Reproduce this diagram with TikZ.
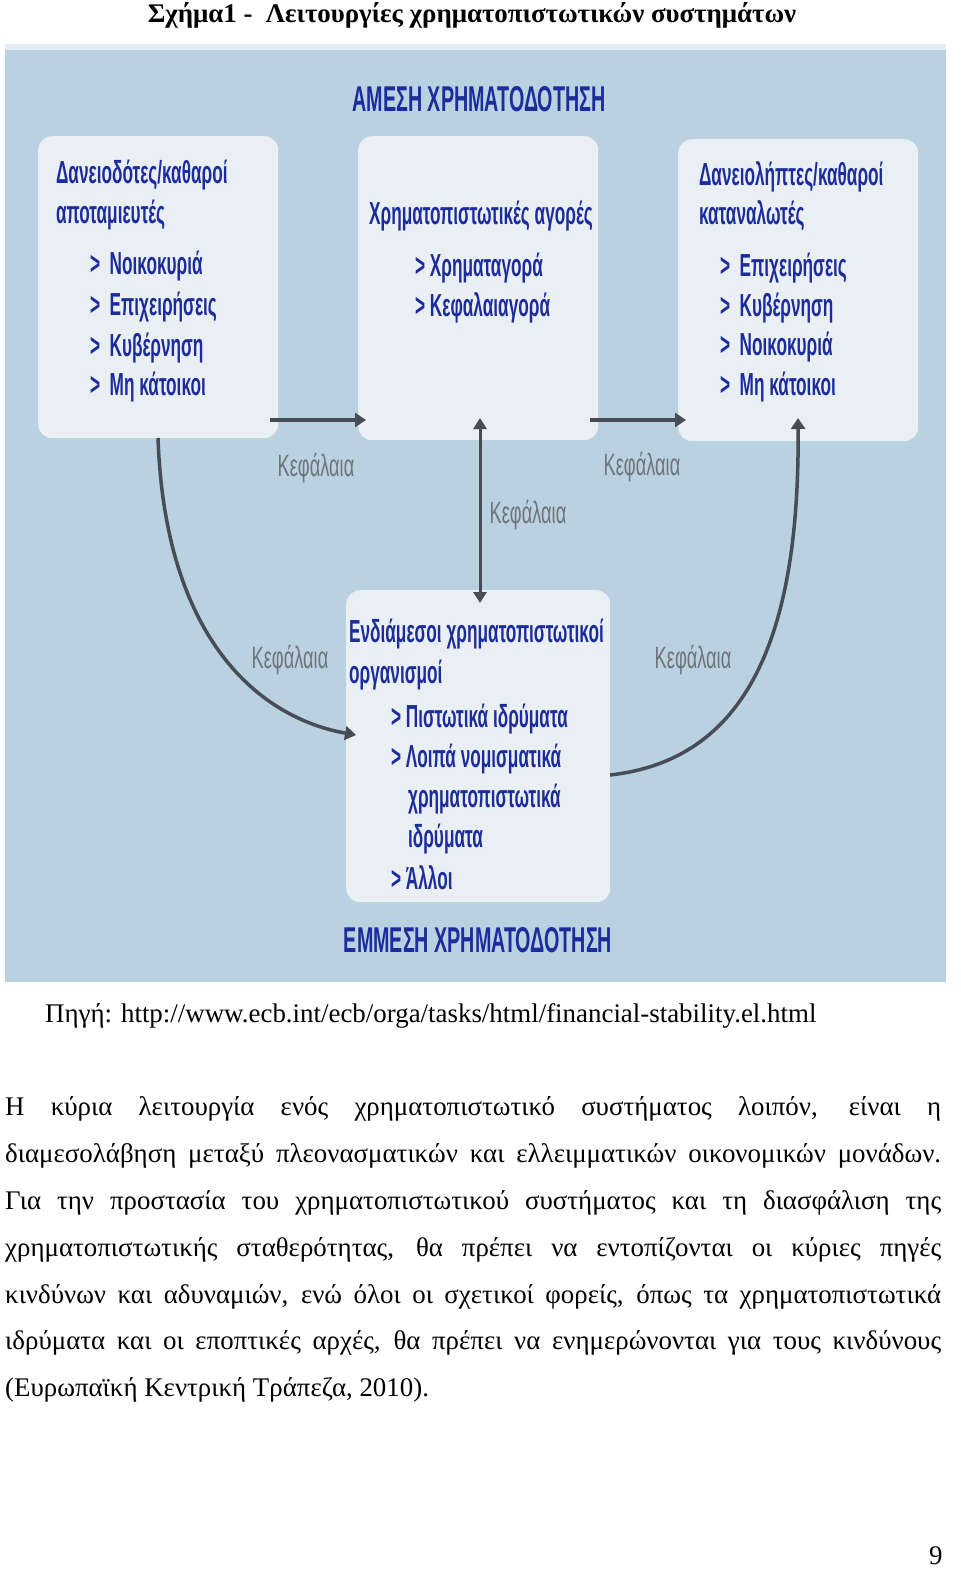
\documentclass[tikz,border=0pt]{standalone}
\usepackage{fontspec}
\setmainfont{Liberation Serif}
\newfontfamily\dsans{Liberation Sans}
\usetikzlibrary{arrows.meta}
\definecolor{panel}{HTML}{B9D1E1}
\definecolor{boxc}{HTML}{EAEFF3}
\definecolor{dblue}{HTML}{1C2C9C}
\definecolor{arr}{HTML}{474C55}
\definecolor{lab}{HTML}{6E7378}
\tikzset{
 hdr/.style={font=\dsans\bfseries\fontsize{36}{36}\selectfont, text=dblue, xscale=0.55, inner sep=0},
 bt/.style={font=\dsans\bfseries\fontsize{32}{32}\selectfont, text=dblue, xscale=0.54, anchor=west, inner sep=0},
 bx/.style={fill=boxc, rounded corners=14bp, draw=none},
 kf/.style={font=\dsans\fontsize{31}{31}\selectfont, text=lab, xscale=0.59, inner sep=0},
 ar/.style={draw=arr, line width=4bp, -{Triangle[length=11bp,width=14bp]}},
 para/.style={anchor=west, inner sep=0, font=\fontsize{27}{27}\selectfont},
}
\newcommand{\gl}[1]{\makebox[936bp][s]{#1}}
\begin{document}
\begin{tikzpicture}[x=1bp,y=-1bp]
\useasboundingbox (0,0) rectangle (960,1578);
\node[font=\bfseries\fontsize{27}{27}\selectfont] (title) at (472,15) {Σχήμα1 -\ \ Λειτουργίες χρηματοπιστωτικών συστημάτων};
\fill[panel] (5,47) rectangle (946,982);
\fill[white!60!panel] (5,44) rectangle (946,50);
\node[hdr] (h1) at (479,99) {ΑΜΕΣΗ ΧΡΗΜΑΤΟΔΟΤΗΣΗ};
\node[hdr] (h2) at (478,940) {ΕΜΜΕΣΗ ΧΡΗΜΑΤΟΔΟΤΗΣΗ};
% boxes
\node[bx, minimum width=240bp, minimum height=302bp, anchor=north west] (L) at (38,136) {};
\node[bx, minimum width=240bp, minimum height=304bp, anchor=north west] (M) at (358,136) {};
\node[bx, minimum width=240bp, minimum height=302bp, anchor=north west] (R) at (678,139) {};
\node[bx, minimum width=264bp, minimum height=312bp, anchor=north west] (B) at (346,590) {};
% left text
\node[bt] (l1) at (56,175) {Δανειοδότες/καθαροί};
\node[bt] (l2) at (56,215) {αποταμιευτές};
\node[bt] (l3) at (90,266) {>\ \ Νοικοκυριά};
\node[bt] (l4) at (90,307) {>\ \ Επιχειρήσεις};
\node[bt] (l5) at (90,348) {>\ \ Κυβέρνηση};
\node[bt] (l6) at (90,387) {>\ \ Μη κάτοικοι};
% middle
\node[bt] (m1) at (369,216) {Χρηματοπιστωτικές αγορές};
\node[bt] (m2) at (415,268) {> Χρηματαγορά};
\node[bt] (m3) at (415,308) {> Κεφαλαιαγορά};
% right
\node[bt] (r1) at (699,177) {Δανειολήπτες/καθαροί};
\node[bt] (r2) at (699,216) {καταναλωτές};
\node[bt] (r3) at (720,268) {>\ \ Επιχειρήσεις};
\node[bt] (r4) at (720,308) {>\ \ Κυβέρνηση};
\node[bt] (r5) at (720,347) {>\ \ Νοικοκυριά};
\node[bt] (r6) at (720,387) {>\ \ Μη κάτοικοι};
% bottom
\node[bt] (b1) at (349,634) {Ενδιάμεσοι χρηματοπιστωτικοί};
\node[bt] (b2) at (349,675) {οργανισμοί};
\node[bt] (b3) at (391,719) {> Πιστωτικά ιδρύματα};
\node[bt] (b4) at (391,759) {> Λοιπά νομισματικά};
\node[bt] (b5) at (408,799) {χρηματοπιστωτικά};
\node[bt] (b6) at (408,839) {ιδρύματα};
\node[bt] (b7) at (391,878) {> Άλλοι};
% arrows
\coordinate (a1) at (270,420); \coordinate (a2) at (366,420);
\coordinate (a3) at (590,420); \coordinate (a4) at (686,420);
\draw[ar] (a1) -- (a2);
\draw[ar] (a3) -- (a4);
\draw[draw=arr, line width=3bp, {Triangle[length=11bp,width=13bp]}-{Triangle[length=11bp,width=13bp]}] (480,418) -- (480,603);
\coordinate (c1) at (158,438); \coordinate (c2) at (356,735);
\draw[draw=arr, line width=3.5bp, -{Triangle[length=11bp,width=14bp]}] (c1) .. controls (165,640) and (260,718) .. (c2);
\coordinate (c3) at (610,775); \coordinate (c4) at (798,418);
\draw[draw=arr, line width=3.5bp, -{Triangle[length=11bp,width=14bp]}] (c3) .. controls (745,760) and (800,640) .. (c4);
% labels
\node[kf] (k1) at (316,468) {Κεφάλαια};
\node[kf] (k2) at (642,467) {Κεφάλαια};
\node[kf] (k3) at (528,515) {Κεφάλαια};
\node[kf] (k4) at (290,660) {Κεφάλαια};
\node[kf] (k5) at (693,660) {Κεφάλαια};
% text below
\node[para] (src) at (45,1016) {Πηγή: http://www.ecb.int/ecb/orga/tasks/html/financial-stability.el.html};
\node[para] (p1) at (5,1109) {\gl{Η κύρια λειτουργία ενός χρηματοπιστωτικό συστήματος λοιπόν, είναι η}};
\node[para] (p2) at (5,1156) {\gl{διαμεσολάβηση μεταξύ πλεονασματικών και ελλειμματικών οικονομικών μονάδων.}};
\node[para] (p3) at (5,1203) {\gl{Για την προστασία του χρηματοπιστωτικού συστήματος και τη διασφάλιση της}};
\node[para] (p4) at (5,1250) {\gl{χρηματοπιστωτικής σταθερότητας, θα πρέπει να εντοπίζονται οι κύριες πηγές}};
\node[para] (p5) at (5,1297) {\gl{κινδύνων και αδυναμιών, ενώ όλοι οι σχετικοί φορείς, όπως τα χρηματοπιστωτικά}};
\node[para] (p6) at (5,1343) {\gl{ιδρύματα και οι εποπτικές αρχές, θα πρέπει να ενημερώνονται για τους κινδύνους}};
\node[para] (p7) at (5,1390) {(Ευρωπαϊκή Κεντρική Τράπεζα, 2010).};
\node[para] (pg) at (929,1556) {9};
\end{tikzpicture}
\end{document}
